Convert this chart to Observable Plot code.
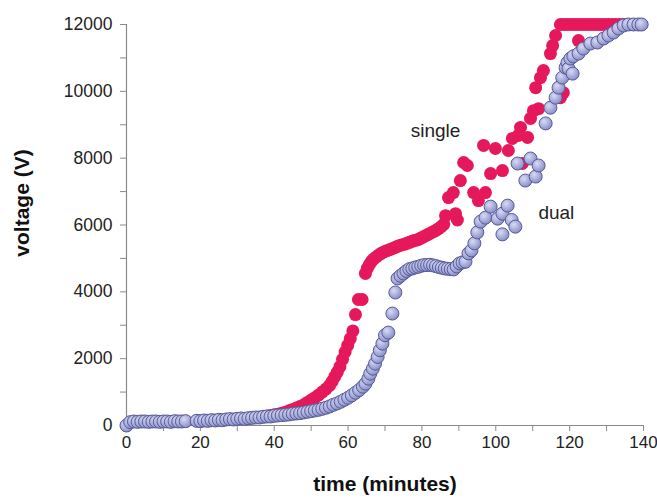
<!DOCTYPE html>
<html>
<head>
<meta charset="utf-8">
<script src="https://cdn.jsdelivr.net/npm/d3@7"></script>
<script src="https://cdn.jsdelivr.net/npm/@observablehq/plot@0.6"></script>
<style>
  html, body { margin: 0; padding: 0; background: #fff; }
  #chart { width: 657px; height: 503px; }
</style>
</head>
<body>
<div id="chart"></div>
<script>
// ---- data ----
const xTicks = [0, 10, 20, 30, 40, 50, 60, 70, 80, 90, 100, 110, 120, 130, 140];
const yTicks = [0, 1000, 2000, 3000, 4000, 5000, 6000, 7000, 8000, 9000, 10000, 11000, 12000];

const dualT = [0,1,2,3,4,5,6,7,8,9,10,11,12,13,14,15,16,
  19,20,21,22,23,24,25,26,27,28,29,30,31,32,33,34,35,36,37,38,39,40,41,42,43,44,45,46,47,48,49,50,
  51,52,53,54,55,56,57,58,59,60,61,62,63,64,64.7,65.5,66,66.7,67.3,68,68.6,69.3,70,70.9,72,72.8,
  73.4,74.2,75,75.8,76.6,77.4,78.2,79,79.8,80.6,81.4,82.2,83,83.8,84.6,85.4,86.2,87,87.8,88.6,89.4,90.2,91,91.8,92.6,93.4,94.2,
  95,95.9,97.2,98.6,100.5,101.8,101.8,103.2,104.3,105.3,
  105.9,108,109.4,110.8,111.6,113.5,114.8,116.2,117,118,118.9,119.4,119.7,120.2,120.8,121,122.4,123.7,125.6,127.5,129.2,130.5,131.9,133.2,134.6,135.9,137.3,138.6,139.5];
const dualV = [0,100,120,110,120,120,110,120,120,110,120,120,110,130,120,120,130,
  140,130,150,140,160,150,170,160,180,190,180,200,210,200,220,230,240,240,260,270,270,290,300,310,320,330,350,360,370,390,410,430,
  450,470,500,530,570,620,660,710,770,830,900,980,1060,1160,1250,1400,1550,1700,1850,2050,2250,2450,2700,2780,3350,3980,
  4400,4480,4550,4620,4680,4700,4730,4750,4780,4800,4800,4810,4790,4770,4740,4720,4700,4690,4680,4670,4760,4850,4880,4900,5150,5240,5450,
  5780,6100,6220,6550,6190,6340,5720,6580,6150,5950,
  7840,7330,7990,7450,7780,9040,9510,9810,10110,10410,10710,10860,10680,10980,10530,11050,11130,11280,11430,11460,11580,11670,11760,11880,11970,12000,12000,12000,12000];

const singleT = [0,1,2,3,4,5,6,7,8,9,10,11,12,13,14,15,16,
  19,20,21,22,23,24,25,26,27,28,29,30,31,32,33,34,35,36,37,
  38,39,40,41,42,43,44,45,46,47,48,49,50,51,52,53,54,55,55.7,56.4,57.1,57.8,58.5,59.2,59.9,60.6,61.3,62,62.8,63.8,
  64.7,65.2,65.8,66.4,67,67.7,68.4,69.1,69.8,70.5,71.2,71.9,72.6,73.3,74,74.7,75.4,76.1,76.8,77.5,78.2,78.9,79.6,80.3,81,81.7,82.4,83.1,83.8,84.5,85.2,85.9,
  86.4,87.2,88.5,89.1,89.6,90.4,91.3,92.3,94,95.3,96.7,97.2,98.6,99.9,101.8,103.4,104.5,106.1,106.7,107.2,108.6,109.4,110.2,110.8,111.6,112.1,112.9,114.8,115.4,116.2,117.5,118.3,122.4,
  117.5,118.5,119.5,120.5,121.5,122.5,123.5,124.5,125.5,126.5,127.5,128.5,129.5,130.5,131.5,132.5,133.5,134.5,135.5,136.5,137.5,138.5,139.5];
const singleV = [0,100,120,110,120,120,110,120,120,110,120,120,110,130,120,120,130,
  140,130,150,140,160,150,170,160,180,190,180,200,210,200,220,230,240,240,260,
  280,300,320,340,370,400,440,480,520,570,620,690,760,830,910,1000,1090,1200,1320,1460,1600,1760,1980,2200,2400,2600,2830,3320,3770,3770,
  4550,4700,4820,4920,4990,5050,5110,5160,5200,5230,5260,5290,5320,5360,5390,5410,5430,5460,5490,5520,5540,5560,5600,5640,5680,5720,5760,5800,5840,5890,5950,6020,
  6280,6820,6970,6340,6150,7330,7870,7780,6970,6730,8380,6970,7540,8290,7630,8230,8590,8680,8920,7840,8620,9190,9420,10110,9480,10410,10620,11130,11370,11670,9810,9960,11520,
  12000,12000,12000,12000,12000,12000,12000,12000,12000,12000,12000,12000,12000,12000,12000,12000,12000,12000,12000,12000,12000,12000,12000];

const seriesLabels = ["single", "dual"];
const labelT = [83.7, 116.4];
const labelV = [8830, 6370];

const xTitle = "time (minutes)";
const yTitle = "voltage (V)";

// ---- build tables ----
const single = singleT.map((t, i) => ({t, v: singleV[i]}));
const dual = dualT.map((t, i) => ({t, v: dualV[i]}));
const labels = seriesLabels.map((s, i) => ({s, t: labelT[i], v: labelV[i]}));

const chart = Plot.plot({
  width: 657,
  height: 503,
  marginLeft: 126,
  marginRight: 14,
  marginTop: 24,
  marginBottom: 78,
  style: {fontFamily: "'Liberation Sans', Arial, sans-serif", fontSize: "17px", background: "#fff", color: "#222"},
  x: {domain: [0, 140]},
  y: {domain: [0, 12000]},
  marks: [
    Plot.axisX({ticks: xTicks, tickFormat: d => d % 20 === 0 ? String(d) : "", tickSize: 6, tickPadding: 4, stroke: "#8a8a8a", fill: "#222", label: null, fontSize: 17}),
    Plot.axisY({ticks: yTicks, tickFormat: d => d % 2000 === 0 ? String(d) : "", tickSize: 6, tickPadding: 8, stroke: "#8a8a8a", fill: "#222", label: null, fontSize: 17.5}),
    Plot.ruleY([0], {stroke: "#8a8a8a", strokeWidth: 1.2}),
    Plot.ruleX([0], {stroke: "#8a8a8a", strokeWidth: 1.2}),
    Plot.dot(single, {x: "t", y: "v", r: 6.5, fill: "#e6185c"}),
    Plot.dot(dual, {x: "t", y: "v", r: 6.5, fill: "url(#lav)", stroke: "#565b98", strokeWidth: 1}),
    Plot.text(labels, {x: "t", y: "v", text: "s", fontSize: 19, fill: "#222"}),
    Plot.text([xTitle], {frameAnchor: "bottom", dy: 65, fontSize: 21, fontWeight: "bold", fill: "#111"}),
    Plot.text([yTitle], {frameAnchor: "left", textAnchor: "middle", dx: -104, dy: -22, rotate: -90, fontSize: 21, fontWeight: "bold", fill: "#111"})
  ]
});

// gradient for the shaded lavender dots
const svg = d3.select(chart);
const defs = svg.insert("defs", ":first-child");
const g = defs.append("radialGradient").attr("id", "lav").attr("cx", "38%").attr("cy", "35%").attr("r", "65%");
g.append("stop").attr("offset", "0%").attr("stop-color", "#d9dbf2");
g.append("stop").attr("offset", "60%").attr("stop-color", "#a9addc");
g.append("stop").attr("offset", "100%").attr("stop-color", "#8b90c7");

document.getElementById("chart").appendChild(chart);
</script>
</body>
</html>
